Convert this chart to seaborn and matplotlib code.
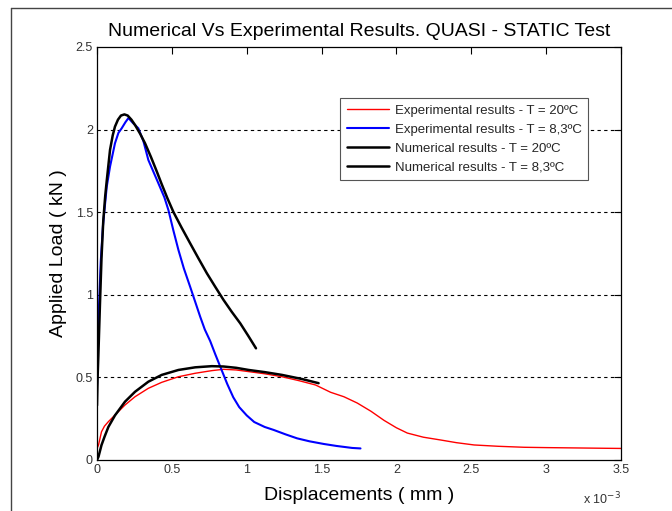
import numpy as np
import pandas as pd
import matplotlib
matplotlib.use("Agg")
import matplotlib.pyplot as plt
import seaborn as sns
from matplotlib.lines import Line2D

# ---- data (x in units of 1e-3 mm, y in kN) ----
exp20_x = [0.0, 0.01, 0.03, 0.05, 0.076, 0.132, 0.187, 0.254, 0.343, 0.432, 0.544, 0.656, 0.767,
           0.845, 0.93, 1.013, 1.12, 1.236, 1.35, 1.46, 1.56, 1.649, 1.738, 1.83, 1.917, 2.0,
           2.073, 2.18, 2.296, 2.4, 2.519, 2.68, 2.853, 3.0, 3.2, 3.389, 3.5]
exp20_y = [0.07, 0.09, 0.171, 0.205, 0.232, 0.283, 0.333, 0.383, 0.434, 0.47, 0.504, 0.525, 0.541,
           0.549, 0.545, 0.535, 0.522, 0.504, 0.48, 0.454, 0.41, 0.383, 0.345, 0.295, 0.24, 0.195,
           0.163, 0.138, 0.121, 0.105, 0.091, 0.083, 0.077, 0.075, 0.073, 0.071, 0.07]

exp83_x = [0.0, 0.005, 0.012, 0.025, 0.04, 0.065, 0.087, 0.12, 0.143, 0.165, 0.19, 0.21, 0.24,
           0.276, 0.31, 0.343, 0.41, 0.45, 0.477, 0.51, 0.544, 0.58, 0.622, 0.655, 0.689, 0.72,
           0.756, 0.79, 0.83, 0.87, 0.91, 0.95, 1.0, 1.05, 1.12, 1.18, 1.26, 1.337, 1.42, 1.515,
           1.6, 1.704, 1.76]
exp83_y = [0.45, 0.62, 0.9, 1.2, 1.42, 1.654, 1.776, 1.917, 1.98, 2.008, 2.045, 2.07, 2.04,
           2.008, 1.93, 1.816, 1.675, 1.59, 1.513, 1.39, 1.271, 1.16, 1.049, 0.96, 0.868, 0.79,
           0.72, 0.64, 0.55, 0.46, 0.38, 0.32, 0.27, 0.23, 0.2, 0.182, 0.155, 0.131, 0.113, 0.097,
           0.085, 0.073, 0.07]

num20_x = [0.0, 0.01, 0.03, 0.05, 0.076, 0.12, 0.187, 0.254, 0.343, 0.432, 0.544, 0.656, 0.767,
           0.845, 0.93, 1.013, 1.12, 1.236, 1.37, 1.48]
num20_y = [0.0, 0.02, 0.09, 0.14, 0.2, 0.27, 0.353, 0.413, 0.474, 0.515, 0.545, 0.561, 0.568,
           0.566, 0.558, 0.545, 0.532, 0.515, 0.49, 0.465]

num83_x = [0.0, 0.004, 0.009, 0.02, 0.03, 0.042, 0.055, 0.065, 0.087, 0.105, 0.12, 0.14, 0.16,
           0.183, 0.205, 0.23, 0.254, 0.288, 0.321, 0.36, 0.40, 0.432, 0.47, 0.511, 0.566, 0.622,
           0.678, 0.734, 0.79, 0.845, 0.9, 0.957, 1.01, 1.062]
num83_y = [0.33, 0.5, 0.63, 0.95, 1.22, 1.45, 1.6, 1.69, 1.877, 1.965, 2.018, 2.06, 2.085,
           2.092, 2.085, 2.06, 2.028, 1.975, 1.917, 1.835, 1.745, 1.67, 1.585, 1.5, 1.405, 1.312,
           1.22, 1.13, 1.048, 0.969, 0.897, 0.827, 0.752, 0.676]

labels = ["Experimental results - T = 20ºC", "Experimental results - T = 8,3ºC",
          "Numerical results - T = 20ºC", "Numerical results - T = 8,3ºC"]
colors = ["#ff0000", "#0000ff", "#000000", "#000000"]
widths = [1.0, 1.5, 1.8, 1.8]
xticks = [0, 0.5, 1, 1.5, 2, 2.5, 3, 3.5]
yticks = [0, 0.5, 1, 1.5, 2, 2.5]

sns.set_style("white")
plt.rcParams['font.family'] = ['Liberation Sans', 'DejaVu Sans']

fig = plt.figure(figsize=(6.72, 5.11), dpi=100)
ax = fig.add_axes([97/672, 1-460/511, 524/672, 413/511])

series = [(exp20_x, exp20_y), (exp83_x, exp83_y), (num20_x, num20_y), (num83_x, num83_y)]
for (xs, ys), lab, c, w in zip(series, labels, colors, widths):
    df = pd.DataFrame({"x": xs, "y": ys})
    sns.lineplot(data=df, x="x", y="y", sort=False, color=c, lw=w, ax=ax, legend=False,
                 estimator=None)

ax.set_xlim(0, 3.5)
ax.set_ylim(0, 2.5)
ax.set_xticks(xticks)
ax.set_xticklabels([f"{t:g}" for t in xticks])
ax.set_yticks(yticks)
ax.set_yticklabels([f"{t:g}" for t in yticks])
for yt in yticks[1:-1]:
    ax.axhline(yt, color="black", lw=0.8, ls=(0, (3, 3)), zorder=0)

ax.tick_params(direction="in", length=5, width=0.8, top=True, right=True,
               labelsize=9, labelcolor="#333333", colors="black", pad=3)
ax.tick_params(axis="both", labelcolor="#333333")
for s in ax.spines.values():
    s.set_color("black")
    s.set_linewidth(0.9)

ax.set_xlabel("Displacements ( mm )", fontsize=14, labelpad=8, color="black")
ax.set_ylabel("Applied Load ( kN )", fontsize=14, labelpad=6, color="black")
ax.set_title("Numerical Vs Experimental Results. QUASI - STATIC Test", fontsize=14, pad=8,
             color="black")
ax.text(1.0, -0.095, r"x 10$^{-3}$", transform=ax.transAxes, ha="right", va="center",
        fontsize=9, color="#333333")

handles = [Line2D([], [], color=c, lw=w) for c, w in zip(colors, widths)]
leg = ax.legend(handles, labels, loc="upper right", bbox_to_anchor=(0.937, 0.876),
                fontsize=9.5, frameon=True, fancybox=False, framealpha=1,
                edgecolor="#555555", borderpad=0.5, handlelength=3.2, labelspacing=0.5,
                handletextpad=0.4, borderaxespad=0)
leg.get_frame().set_linewidth(0.8)

# screenshot frame lines
fig.add_artist(Line2D([11/672, 1.0], [1-8/511, 1-8/511], color="#444444", lw=1, transform=fig.transFigure))
fig.add_artist(Line2D([11/672, 11/672], [0, 1-8/511], color="#444444", lw=1, transform=fig.transFigure))

fig.savefig("out.png", dpi=100)
